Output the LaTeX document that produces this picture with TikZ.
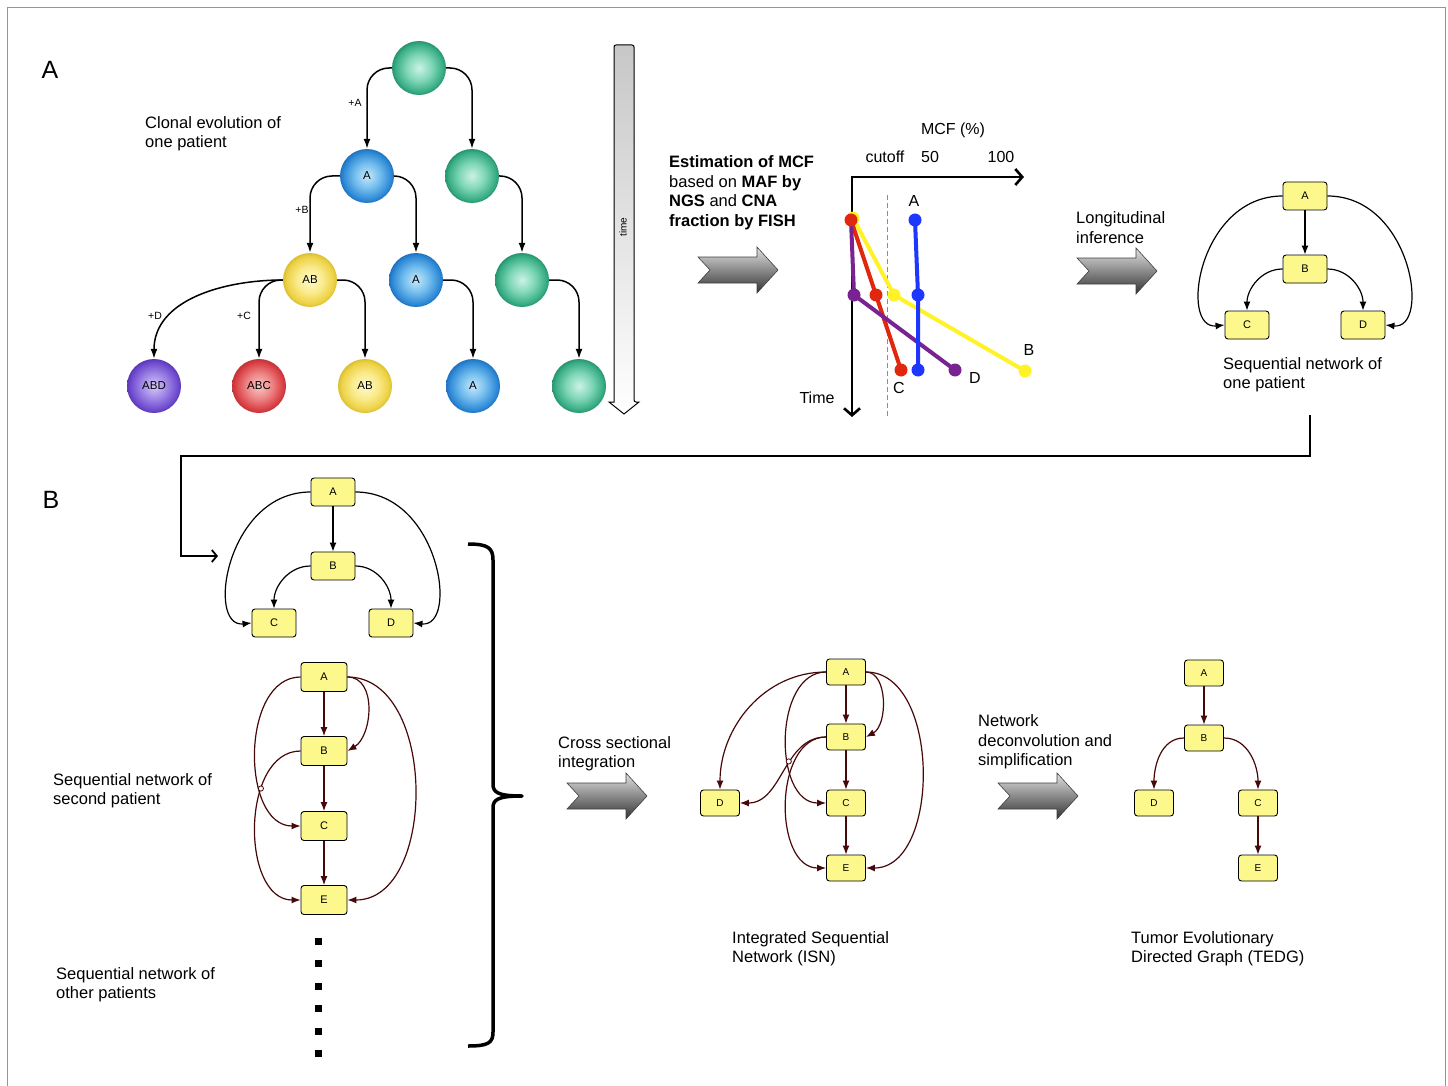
\documentclass[tikz,border=0pt]{standalone}
\usepackage{fontspec}
\setmainfont{Liberation Sans}
\usetikzlibrary{arrows.meta,intersections}

\definecolor{boxfill}{RGB}{252,248,140}
\definecolor{edgebrown}{RGB}{70,8,8}
\definecolor{mcfblue}{RGB}{30,55,255}
\definecolor{mcfred}{RGB}{225,40,15}
\definecolor{mcfyellow}{RGB}{255,243,40}
\definecolor{mcfpurple}{RGB}{120,35,145}
\definecolor{framegray}{RGB}{150,150,150}

% glossy fills for the clone circles (the rim of the circle sits at 25bp)
\pgfdeclareradialshading{ballgreen}{\pgfpoint{0bp}{0bp}}{rgb(0bp)=(0.80,0.95,0.90); rgb(12bp)=(0.50,0.84,0.72); rgb(22bp)=(0.22,0.68,0.52); rgb(25bp)=(0.16,0.58,0.44); rgb(50bp)=(0.16,0.58,0.44)}
\pgfdeclareradialshading{ballblue}{\pgfpoint{0bp}{0bp}}{rgb(0bp)=(0.78,0.91,0.99); rgb(12bp)=(0.45,0.74,0.93); rgb(22bp)=(0.18,0.54,0.84); rgb(25bp)=(0.13,0.45,0.75); rgb(50bp)=(0.13,0.45,0.75)}
\pgfdeclareradialshading{ballyellow}{\pgfpoint{0bp}{0bp}}{rgb(0bp)=(1,0.98,0.80); rgb(12bp)=(0.98,0.92,0.55); rgb(22bp)=(0.93,0.82,0.27); rgb(25bp)=(0.86,0.75,0.20); rgb(50bp)=(0.86,0.75,0.20)}
\pgfdeclareradialshading{ballred}{\pgfpoint{0bp}{0bp}}{rgb(0bp)=(0.98,0.78,0.78); rgb(12bp)=(0.93,0.52,0.52); rgb(22bp)=(0.85,0.25,0.27); rgb(25bp)=(0.76,0.20,0.22); rgb(50bp)=(0.76,0.20,0.22)}
\pgfdeclareradialshading{ballpurple}{\pgfpoint{0bp}{0bp}}{rgb(0bp)=(0.84,0.79,0.98); rgb(12bp)=(0.62,0.52,0.90); rgb(22bp)=(0.43,0.29,0.81); rgb(25bp)=(0.36,0.22,0.72); rgb(50bp)=(0.36,0.22,0.72)}

\tikzset{
  axistip/.tip={Straight Barb[length=7pt,width=16pt,line width=2.6pt]},
  lbl/.style={font=\fontsize{16.5}{19.5}\selectfont, align=left, anchor=west, inner sep=0pt},
  panel/.style={font=\fontsize{25}{30}\selectfont, inner sep=0pt},
  clone/.style={circle, minimum size=54pt, inner sep=0pt, shade, font=\fontsize{11.5}{12}\selectfont},
  treeedge/.style={line width=1.5pt, rounded corners=22pt, -{Latex[length=10pt,width=7pt]}},
  gain/.style={font=\fontsize{10.5}{12}\selectfont, inner sep=0pt},
  seqbox/.style={draw=black, line width=0.9pt, fill=boxfill, rounded corners=3pt,
    minimum width=44pt, minimum height=28pt, inner sep=0pt, font=\fontsize{11}{12}\selectfont},
  midbox/.style={seqbox, minimum width=46pt, minimum height=29pt},
  smallbox/.style={seqbox, minimum width=39pt, minimum height=26pt, font=\fontsize{10}{12}\selectfont},
  blackedge/.style={line width=1.2pt, -{Latex[length=9pt,width=7pt]}},
  brownedge/.style={line width=1.2pt, draw=edgebrown, -{Latex[length=9pt,width=7pt]}},
  hop/.style={draw=edgebrown, fill=white, line width=0.8pt},
  chartlbl/.style={font=\fontsize{16}{19}\selectfont, inner sep=0pt},
  series/.style={line width=4pt, line join=round},
  pics/grayarrow/.style={code={
    \shade[top color=black!12, bottom color=black!80, draw=black!75, line width=0.6pt]
      (0,-13) -- (59,-13) -- (59,-23) -- (80,0) -- (59,23) -- (59,13) -- (0,13) -- (12,0) -- cycle;
  }},
}

\begin{document}
\begin{tikzpicture}[x=1pt,y=-1pt]
\useasboundingbox (0,0) rectangle (1448,1086);
\fill[white] (0,0) rectangle (1448,1086);
\draw[framegray, line width=1pt] (7,1086) -- (7,8) -- (1445,8) -- (1445,1086);

% ---------------- panel A: clonal tree ----------------
\node[panel] (labA) at (50,70) {A};
\node[lbl] (cloncap) at (145,133.5) {Clonal evolution of\\one patient};

\node[clone, shading=ballgreen] (r0) at (419,68) {};
\node[clone, shading=ballblue] (a1) at (367,176) {A};
\node[clone, shading=ballgreen] (g1) at (472,176) {};
\node[clone, shading=ballyellow] (ab2) at (310,280) {AB};
\node[clone, shading=ballblue] (a2) at (416,280) {A};
\node[clone, shading=ballgreen] (g2) at (522,280) {};
\node[clone, shading=ballpurple] (abd3) at (154,386) {ABD};
\node[clone, shading=ballred] (abc3) at (259,386) {ABC};
\node[clone, shading=ballyellow] (ab3) at (365,386) {AB};
\node[clone, shading=ballblue] (a3) at (473,386) {A};
\node[clone, shading=ballgreen] (g3) at (579,386) {};

\draw[treeedge] (r0.west) -| (a1.north);
\draw[treeedge] (r0.east) -| (g1.north);
\draw[treeedge] (a1.west) -| (ab2.north);
\draw[treeedge] (a1.east) -| (a2.north);
\draw[treeedge] (g1.east) -| (g2.north);
\draw[treeedge] (ab2.west) to[out=180,in=90] (abd3.north);
\draw[treeedge] (ab2.west) -| (abc3.north);
\draw[treeedge] (ab2.east) -| (ab3.north);
\draw[treeedge] (a2.east) -| (a3.north);
\draw[treeedge] (g2.east) -| (g3.north);

\node[gain] (gA) at (355,103) {+A};
\node[gain] (gB) at (302,210) {+B};
\node[gain] (gD) at (155,316) {+D};
\node[gain] (gC) at (244,316) {+C};

% time bar
\shade[top color=black!22, bottom color=white, draw=black, line width=1pt, rounded corners=2pt]
  (614,402) -- (614,45) -- (634,45) -- (634,402) [sharp corners] -- (639,402) -- (624,414) -- (609,402) -- cycle;
\node[rotate=90, font=\fontsize{10}{12}\selectfont, inner sep=0pt] (timelbl) at (623,227) {time};

% ---------------- MCF estimation ----------------
\node[lbl] (estcap) at (669,192.5) {\textbf{Estimation of MCF}\\based on \textbf{MAF by}\\\textbf{NGS} and \textbf{CNA}\\\textbf{fraction by FISH}};
\pic at (698,270) {grayarrow};

\node[chartlbl] (mcf) at (953,130) {MCF (\%)};
\node[chartlbl] (cut) at (885,157) {cutoff};
\node[chartlbl] (t50) at (930,157) {50};
\node[chartlbl] (t100) at (1001,157) {100};
\node[chartlbl] (timeax) at (817,398) {Time};

\draw[black!45, line width=1pt, dash pattern=on 5pt off 3pt] (887,195) -- (887,417);
\draw[line width=1.4pt, axistip-axistip]
  (852,417) -- (852,177) -- (1024,177);

\draw[series, mcfyellow] (853,218) -- (894,295) -- (1025,371);
\fill[mcfyellow] (853,218) circle (6.5pt) (894,295) circle (6.5pt) (1025,371) circle (6.5pt);
\draw[series, mcfred] (851,220) -- (876,295) -- (901,370);
\fill[mcfred] (876,295) circle (6.5pt) (901,370) circle (6.5pt);
\draw[series, mcfpurple] (851,220) -- (854,295) -- (955,370);
\fill[mcfpurple] (854,295) circle (6.5pt) (955,370) circle (6.5pt);
\fill[mcfred] (851,220) circle (6.5pt);
\draw[series, mcfblue] (915,220) -- (918,295) -- (918,370);
\fill[mcfblue] (915,220) circle (6.5pt) (918,295) circle (6.5pt) (918,370) circle (6.5pt);

\node[chartlbl] (lA) at (914,201) {A};
\node[chartlbl] (lB) at (1029,350) {B};
\node[chartlbl] (lD) at (975,378) {D};
\node[chartlbl] (lC) at (899,388) {C};

% ---------------- longitudinal inference ----------------
\node[lbl] (longcap) at (1076,227.5) {Longitudinal\\inference};
\pic at (1077,271) {grayarrow};

\node[seqbox] (sA) at (1305,196) {A};
\node[seqbox] (sB) at (1305,269) {B};
\node[seqbox] (sC) at (1247,325) {C};
\node[seqbox] (sD) at (1363,325) {D};
\draw[blackedge] (sA) -- (sB);
\draw[blackedge] (sB.west) to[out=180,in=90] (sC.north);
\draw[blackedge] (sB.east) to[out=0,in=90] (sD.north);
\draw[blackedge] (sA.west) .. controls +(-84,0) and +(-46,5) .. (sC.west);
\draw[blackedge] (sA.east) .. controls +(84,0) and +(46,5) .. (sD.east);
\node[lbl] (onecap) at (1223,374.5) {Sequential network of\\one patient};

% link into panel B
\coordinate (linkstart) at (1310,415);
\coordinate (linkend) at (218,556);
\draw[line width=1.3pt, -{Straight Barb[length=5pt,width=12pt,line width=1.8pt]}]
  (linkstart) |- (181,456) |- (linkend);

% ---------------- panel B ----------------
\node[panel] (labB) at (51,500) {B};

\node[seqbox] (pA) at (333,492) {A};
\node[seqbox] (pB) at (333,566) {B};
\node[seqbox] (pC) at (274,623) {C};
\node[seqbox] (pD) at (391,623) {D};
\draw[blackedge] (pA) -- (pB);
\draw[blackedge] (pB.west) to[out=180,in=90] (pC.north);
\draw[blackedge] (pB.east) to[out=0,in=90] (pD.north);
\draw[blackedge] (pA.west) .. controls +(-84,0) and +(-46,5) .. (pC.west);
\draw[blackedge] (pA.east) .. controls +(84,0) and +(46,5) .. (pD.east);

% second patient
\node[midbox] (qA) at (324,677) {A};
\node[midbox] (qB) at (324,751) {B};
\node[midbox] (qC) at (324,826) {C};
\node[midbox] (qE) at (324,900) {E};
\draw[brownedge] (qA) -- (qB);
\draw[brownedge] (qB) -- (qC);
\draw[brownedge] (qC) -- (qE);
\draw[brownedge] (qA.east) .. controls +(30,0) and +(25,-15) .. (qB.east);
\draw[brownedge] (qA.east) .. controls +(90,0) and +(90,0) .. (qE.east);
\draw[brownedge, name path=qac] (qA.west) .. controls +(-60,0) and +(-60,0) .. (qC.west);
\draw[brownedge, name path=qbe] (qB.west) .. controls +(-60,0) and +(-60,0) .. (qE.west);
\path[name intersections={of=qac and qbe, by={hopq}}];
\draw[hop] (hopq) circle (2.6pt);
\node[lbl] (secondcap) at (53,790.5) {Sequential network of\\second patient};

% more patients
\foreach \yy in {941,963.5,986,1008.5,1031,1053.5}
  \fill (314.5,\yy-3.5) rectangle ++(7,7);
\node[lbl] (othercap) at (56,984.5) {Sequential network of\\other patients};

% bracket gathering all patients
\draw[line width=3.5pt, line join=round]
  (468,544) .. controls (488,544) and (493,548) .. (493,560) -- (493,784)
  .. controls (493,792) and (497,796) .. (522,796)
  .. controls (497,796) and (493,800) .. (493,808) -- (493,1032)
  .. controls (493,1043) and (488,1046) .. (468,1046);

% ---------------- cross sectional integration ----------------
\node[lbl] (crosscap) at (558,753.5) {Cross sectional\\integration};
\pic at (567,796) {grayarrow};

\node[smallbox] (iA) at (846,672) {A};
\node[smallbox] (iB) at (846,737) {B};
\node[smallbox] (iD) at (720,803) {D};
\node[smallbox] (iC) at (846,803) {C};
\node[smallbox] (iE) at (846,868) {E};
\draw[brownedge] (iA) -- (iB);
\draw[brownedge] (iB) -- (iC);
\draw[brownedge] (iC) -- (iE);
\draw[brownedge] (iA.west) to[out=180,in=90] (iD.north);
\draw[brownedge, name path=iac] (iA.west) .. controls +(-53,0) and +(-53,0) .. (iC.west);
\draw[brownedge, name path=ibd] (iB.west) to[out=180,in=0] (iD.east);
\draw[brownedge] (iB.west) .. controls +(-53,0) and +(-53,0) .. (iE.west);
\draw[brownedge] (iA.east) .. controls +(22,0) and +(22,-12) .. (iB.east);
\draw[brownedge] (iA.east) .. controls +(75,0) and +(75,0) .. (iE.east);
\path[name intersections={of=iac and ibd, by={hopi}}];
\draw[hop] (hopi) circle (2.6pt);
\node[lbl] (isncap) at (732,948.5) {Integrated Sequential\\Network (ISN)};

% ---------------- deconvolution ----------------
\node[lbl] (deconvcap) at (978,742) {Network\\deconvolution and\\simplification};
\pic at (998,796) {grayarrow};

\node[smallbox] (tA) at (1204,673) {A};
\node[smallbox] (tB) at (1204,738) {B};
\node[smallbox] (tD) at (1154,803) {D};
\node[smallbox] (tC) at (1258,803) {C};
\node[smallbox] (tE) at (1258,868) {E};
\draw[brownedge] (tA) -- (tB);
\draw[brownedge] (tB.west) to[out=180,in=90] (tD.north);
\draw[brownedge] (tB.east) to[out=0,in=90] (tC.north);
\draw[brownedge] (tC) -- (tE);
\node[lbl] (tedgcap) at (1131,948.5) {Tumor Evolutionary\\Directed Graph (TEDG)};
\end{tikzpicture}
\end{document}
